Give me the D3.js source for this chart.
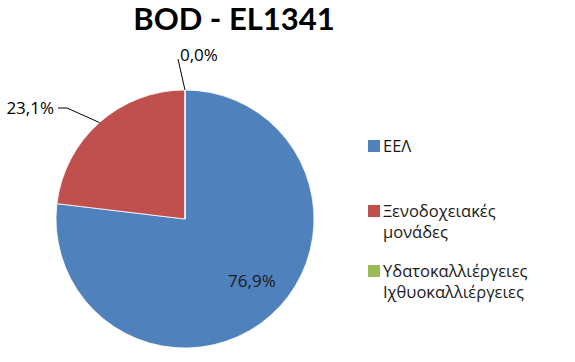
<!DOCTYPE html>
<html lang="el">
<head>
<meta charset="utf-8">
<title>BOD - EL1341</title>
<script src="https://cdn.jsdelivr.net/npm/d3@7"></script>
<style>
  body { margin: 0; background: #fff; }
  text { font-family: "Open Sans", sans-serif; }
</style>
</head>
<body>
<script>
// data
var categories = ["ΕΕΛ", "Ξενοδοχειακές μονάδες", "Υδατοκαλλιέργειες Ιχθυοκαλλιέργειες"];
var legendLines = [["ΕΕΛ"], ["Ξενοδοχειακές", "μονάδες"], ["Υδατοκαλλιέργειες", "Ιχθυοκαλλιέργειες"]];
var values = [76.9, 23.1, 0.0];
var valueLabels = ["76,9%", "23,1%", "0,0%"];
var colors = ["#4F81BD", "#C0504D", "#9BBB59"];

var width = 575, height = 362;
var cx = 185, cy = 219, radius = 129;

var svg = d3.select("body").append("svg")
  .attr("width", width)
  .attr("height", height);

// title
svg.append("text")
  .attr("x", 234)
  .attr("y", 30)
  .attr("text-anchor", "middle")
  .style("font-family", "Lato, sans-serif")
  .style("font-size", "31px")
  .style("font-weight", "bold")
  .text("BOD - EL1341");

var pie = d3.pie().sort(null).value(function(d) { return d; });
var arcs = pie(values);
var arc = d3.arc().innerRadius(0).outerRadius(radius);

var g = svg.append("g").attr("transform", "translate(" + [cx, cy] + ")");

g.selectAll("path")
  .data(arcs)
  .enter()
  .append("path")
  .attr("d", arc)
  .attr("fill", function(d, i) { return colors[i]; })
  .attr("stroke", "#fff")
  .attr("stroke-width", 0.8);

// labels: blue inside, the others outside with leader lines
var inner = d3.arc().innerRadius(radius * 0.7).outerRadius(radius * 0.7);
var pIn = inner.centroid(arcs[0]);
g.append("text")
  .attr("x", pIn[0] + 7)
  .attr("y", pIn[1] - 5)
  .attr("text-anchor", "middle")
  .attr("dy", "0.35em")
  .style("font-size", "17px")
  .style("fill", "#1a1a1a")
  .text(valueLabels[0]);

// red label to the upper left
var midRed = (arcs[1].startAngle + arcs[1].endAngle) / 2;
var edgeRed = [Math.sin(midRed) * radius, -Math.cos(midRed) * radius];
g.append("polyline")
  .attr("points", [[edgeRed[0], edgeRed[1]], [-118, -111], [-127, -111]].join(" "))
  .attr("fill", "none")
  .attr("stroke", "#000")
  .attr("stroke-width", 1);
g.append("text")
  .attr("x", -131)
  .attr("y", -111)
  .attr("dy", "0.35em")
  .attr("text-anchor", "end")
  .style("font-size", "17px")
  .text(valueLabels[1]);

// green label above the top
var midGreen = (arcs[2].startAngle + arcs[2].endAngle) / 2;
var edgeGreen = [Math.sin(midGreen) * radius, -Math.cos(midGreen) * radius];
g.append("line")
  .attr("x1", edgeGreen[0]).attr("y1", edgeGreen[1])
  .attr("x2", -7).attr("y2", -160)
  .attr("stroke", "#000")
  .attr("stroke-width", 1);
g.append("text")
  .attr("x", -5)
  .attr("y", -158)
  .style("font-size", "17px")
  .text(valueLabels[2]);

// legend
var legendY = [146, 211, 271];
var legend = svg.append("g").attr("transform", "translate(368,0)");
categories.forEach(function(c, i) {
  legend.append("rect")
    .attr("x", 0)
    .attr("y", legendY[i] - 6)
    .attr("width", 12)
    .attr("height", 12)
    .attr("fill", colors[i]);
  var t = legend.append("text")
    .attr("x", 15)
    .attr("y", legendY[i] + 6)
    .style("font-size", "16.5px")
    .style("fill", "#1a1a1a");
  legendLines[i].forEach(function(line, j) {
    t.append("tspan")
      .attr("x", 15)
      .attr("dy", j === 0 ? 0 : 21)
      .text(line);
  });
});
</script>
</body>
</html>
